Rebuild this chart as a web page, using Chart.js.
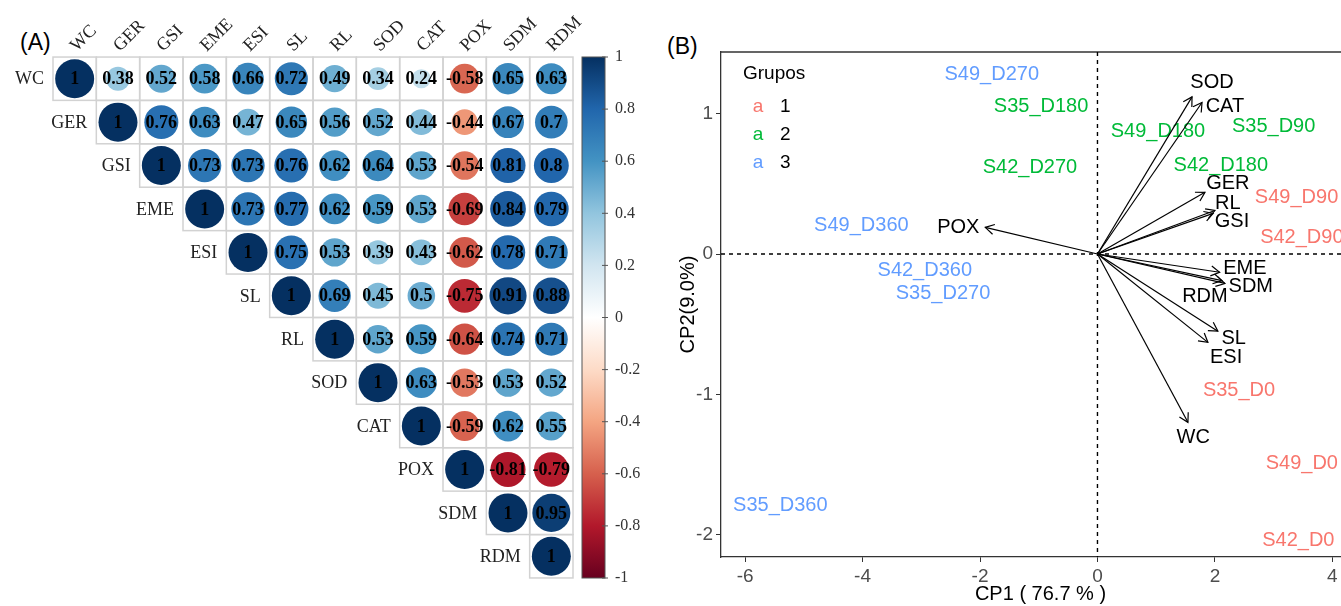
<!DOCTYPE html>
<html lang="pt-BR">
<head>
<meta charset="UTF-8">
<title>Correlação e PCA</title>
<style>
  body { margin:0; background:#fff; overflow:hidden; width:1341px; height:606px; position:relative; }
  #painelA { position:absolute; left:0; top:0; }
  #painelB { position:absolute; left:660px; top:0; }
  .rotulo { position:absolute; font-family:"Liberation Sans", Arial, sans-serif; font-size:23px; color:#000; line-height:26px; }
</style>
</head>
<body>
<div class="rotulo" style="left:20px; top:29px">(A)</div>
<div class="rotulo" style="left:667px; top:33px">(B)</div>
<canvas id="painelA" width="660" height="606"></canvas>
<canvas id="painelB" width="720" height="606"></canvas>

<script src="https://cdn.jsdelivr.net/npm/chart.js"></script>
<script>
// ---- painel A: matriz de correlação (linhas começam na diagonal)
const variaveis = ["WC","GER","GSI","EME","ESI","SL","RL","SOD","CAT","POX","SDM","RDM"];
const correlacoes = [
  [1, 0.38, 0.52, 0.58, 0.66, 0.72, 0.49, 0.34, 0.24, -0.58, 0.65, 0.63],
  [1, 0.76, 0.63, 0.47, 0.65, 0.56, 0.52, 0.44, -0.44, 0.67, 0.7],
  [1, 0.73, 0.73, 0.76, 0.62, 0.64, 0.53, -0.54, 0.81, 0.8],
  [1, 0.73, 0.77, 0.62, 0.59, 0.53, -0.69, 0.84, 0.79],
  [1, 0.75, 0.53, 0.39, 0.43, -0.62, 0.78, 0.71],
  [1, 0.69, 0.45, 0.5, -0.75, 0.91, 0.88],
  [1, 0.53, 0.59, -0.64, 0.74, 0.71],
  [1, 0.63, -0.53, 0.53, 0.52],
  [1, -0.59, 0.62, 0.55],
  [1, -0.81, -0.79],
  [1, 0.95],
  [1]
];
const barraTicks = [1, 0.8, 0.6, 0.4, 0.2, 0, -0.2, -0.4, -0.6, -0.8, -1];

// ---- painel B: PCA
const grupos = ["1", "2", "3"];
const coresGrupo = ["#F8766D", "#00BA38", "#619CFF"];
const amostras = [
  ["S49_D90", "S42_D90", "S35_D0", "S49_D0", "S42_D0"],
  ["S35_D180", "S42_D270", "S49_D180", "S35_D90", "S42_D180"],
  ["S49_D270", "S49_D360", "S42_D360", "S35_D270", "S35_D360"]
];
const amostrasX = [
  [3.39, 3.48, 2.41, 3.48, 3.42],
  [-0.96, -1.15, 1.03, 3.0, 2.10],
  [-1.80, -4.02, -2.94, -2.63, -5.40]
];
const amostrasY = [
  [0.40, 0.12, -0.97, -1.49, -2.04],
  [1.05, 0.62, 0.87, 0.91, 0.63],
  [1.28, 0.20, -0.12, -0.28, -1.79]
];
const vetores = ["SOD","CAT","GER","RL","GSI","POX","EME","SDM","RDM","SL","ESI","WC"];
const vetX = [1.61, 1.78, 1.83, 2.00, 1.97, -1.91, 2.08, 2.17, 2.12, 2.05, 1.88, 1.54];
const vetY = [1.12, 1.08, 0.44, 0.31, 0.29, 0.19, -0.13, -0.21, -0.19, -0.55, -0.63, -1.20];
const rotX = [1.95, 2.17, 2.22, 2.22, 2.29, -2.37, 2.51, 2.61, 1.83, 2.32, 2.19, 1.63];
const rotY = [1.22, 1.05, 0.50, 0.36, 0.23, 0.19, -0.10, -0.23, -0.30, -0.60, -0.74, -1.31];
const ticksX = [-6, -4, -2, 0, 2, 4];
const ticksY = [-2, -1, 0, 1];

const rdbu = ["#67001F","#B2182B","#D6604D","#F4A582","#FDDBC7","#FFFFFF","#D1E5F0","#92C5DE","#4393C3","#2166AC","#053061"];
const hexRgb = h => [1,3,5].map(i => parseInt(h.substr(i,2),16));
function corCorr(v) {
  const t = (v + 1) / 2 * 10;
  const i = Math.min(9, Math.floor(t));
  const f = t - i;
  const a = hexRgb(rdbu[i]), b = hexRgb(rdbu[i+1]);
  const c = a.map((x,k) => Math.round(x + (b[k]-x)*f));
  return `rgb(${c[0]},${c[1]},${c[2]})`;
}

const serif = "'Liberation Serif', 'Times New Roman', serif";
const sans = "'Liberation Sans', Arial, sans-serif";

const pontosCorr = [];
correlacoes.forEach((linha, i) => linha.forEach((v, k) => pontosCorr.push({x: i + k, y: i, v: v})));

function tamCelula(chart) {
  const s = chart.scales.x;
  return Math.abs(s.getPixelForValue(1) - s.getPixelForValue(0));
}

const pluginCorr = {
  id: 'corr',
  beforeDatasetsDraw(chart) {
    const {ctx, scales: {x, y}} = chart;
    const c = tamCelula(chart);
    ctx.save();
    ctx.strokeStyle = '#d2d2d2';
    ctx.lineWidth = 1.5;
    correlacoes.forEach((linha, i) => linha.forEach((v, k) => {
      ctx.strokeRect(x.getPixelForValue(i + k) - c/2, y.getPixelForValue(i) - c/2, c, c);
    }));
    ctx.restore();
  },
  afterDatasetsDraw(chart) {
    const {ctx, chartArea: a, scales: {x, y}} = chart;
    const c = tamCelula(chart);
    ctx.save();
    // valores
    ctx.font = "bold 18px " + serif;
    ctx.fillStyle = '#000';
    ctx.textAlign = 'center';
    ctx.textBaseline = 'middle';
    pontosCorr.forEach(p => ctx.fillText(String(p.v), x.getPixelForValue(p.x), y.getPixelForValue(p.y) + 1));
    // rótulos das linhas
    ctx.font = "18px " + serif;
    ctx.fillStyle = '#222';
    ctx.textAlign = 'right';
    variaveis.forEach((n, i) => ctx.fillText(n, x.getPixelForValue(i) - c/2 - 9, y.getPixelForValue(i) + 1));
    // rótulos das colunas
    ctx.textAlign = 'left';
    ctx.textBaseline = 'alphabetic';
    variaveis.forEach((n, k) => {
      ctx.save();
      ctx.translate(x.getPixelForValue(k) + 2, a.top - 5);
      ctx.rotate(-Math.PI / 4);
      ctx.fillText(n, 0, 0);
      ctx.restore();
    });
    // barra de cores
    const bx = a.right + 9, bw = 23;
    const g = ctx.createLinearGradient(0, a.top, 0, a.bottom);
    rdbu.forEach((cor, i) => g.addColorStop(1 - i / 10, cor));
    ctx.fillStyle = g;
    ctx.fillRect(bx, a.top, bw, a.bottom - a.top);
    ctx.strokeStyle = '#555';
    ctx.lineWidth = 1;
    ctx.strokeRect(bx, a.top, bw, a.bottom - a.top);
    ctx.font = "16px " + serif;
    ctx.fillStyle = '#333';
    ctx.textBaseline = 'middle';
    barraTicks.forEach(t => {
      const ty = a.top + (1 - t) / 2 * (a.bottom - a.top);
      ctx.beginPath();
      ctx.moveTo(bx + bw - 3, ty);
      ctx.lineTo(bx + bw + 3, ty);
      ctx.stroke();
      ctx.fillText(String(t), bx + bw + 10, ty);
    });
    ctx.restore();
  }
};

new Chart(document.getElementById('painelA'), {
  type: 'scatter',
  data: {
    datasets: [{
      data: pontosCorr,
      pointRadius: ctx => ctx.raw ? tamCelula(ctx.chart) * 0.45 * Math.sqrt(Math.abs(ctx.raw.v)) : 0,
      pointBackgroundColor: ctx => ctx.raw ? corCorr(ctx.raw.v) : '#fff',
      pointBorderWidth: 0
    }]
  },
  options: {
    responsive: false,
    animation: false,
    events: [],
    layout: { padding: { left: 53, top: 57, right: 87, bottom: 28 } },
    scales: {
      x: { type: 'linear', min: -0.5, max: 11.5, display: false },
      y: { type: 'linear', min: -0.5, max: 11.5, reverse: true, display: false }
    },
    plugins: { legend: { display: false }, tooltip: { enabled: false } }
  },
  plugins: [pluginCorr]
});

// ---- painel B
const conjuntos = [];
grupos.forEach((g, gi) => {
  conjuntos.push({
    type: 'scatter',
    label: g,
    data: amostras[gi].map((n, j) => ({x: amostrasX[gi][j], y: amostrasY[gi][j], nome: n})),
    pointRadius: 0,
    cor: coresGrupo[gi]
  });
});
vetores.forEach((v, i) => {
  conjuntos.push({
    type: 'line',
    label: v,
    data: [{x: 0, y: 0}, {x: vetX[i], y: vetY[i]}],
    borderColor: '#000',
    borderWidth: 1.2,
    pointRadius: 0,
    fill: false,
    seta: true,
    rx: rotX[i],
    ry: rotY[i]
  });
});

const pluginPca = {
  id: 'pca',
  beforeDatasetsDraw(chart) {
    const {ctx, chartArea: a, scales: {x, y}} = chart;
    ctx.save();
    // moldura superior e direita
    ctx.strokeStyle = '#333';
    ctx.lineWidth = 1.3;
    ctx.beginPath();
    ctx.moveTo(a.left, a.top);
    ctx.lineTo(a.right, a.top);
    ctx.lineTo(a.right, a.bottom);
    ctx.stroke();
    // linhas tracejadas em zero
    ctx.strokeStyle = '#000';
    ctx.lineWidth = 1.4;
    ctx.setLineDash([4, 4]);
    const x0 = x.getPixelForValue(0), y0 = y.getPixelForValue(0);
    ctx.beginPath();
    ctx.moveTo(x0, a.top); ctx.lineTo(x0, a.bottom);
    ctx.moveTo(a.left, y0); ctx.lineTo(a.right, y0);
    ctx.stroke();
    ctx.setLineDash([]);
    // rótulos das amostras
    ctx.font = "20px " + sans;
    ctx.textAlign = 'center';
    ctx.textBaseline = 'middle';
    chart.data.datasets.forEach((ds, i) => {
      if (!ds.cor) return;
      ctx.fillStyle = ds.cor;
      chart.getDatasetMeta(i).data.forEach((pt, j) => ctx.fillText(ds.data[j].nome, pt.x, pt.y));
    });
    // legenda
    ctx.textAlign = 'left';
    ctx.fillStyle = '#000';
    ctx.font = "19px " + sans;
    ctx.fillText('Grupos', a.left + 22, a.top + 22);
    ctx.textBaseline = 'alphabetic';
    grupos.forEach((g, gi) => {
      const by = a.top + 60 + gi * 28;
      ctx.fillStyle = coresGrupo[gi];
      ctx.textAlign = 'center';
      ctx.fillText('a', a.left + 37, by);
      ctx.fillStyle = '#000';
      ctx.textAlign = 'left';
      ctx.fillText(g, a.left + 59, by);
    });
    ctx.restore();
  },
  afterDatasetsDraw(chart) {
    const {ctx, scales: {x, y}} = chart;
    ctx.save();
    ctx.strokeStyle = '#000';
    ctx.lineWidth = 1.2;
    ctx.fillStyle = '#000';
    ctx.font = "20px " + sans;
    ctx.textAlign = 'center';
    ctx.textBaseline = 'middle';
    chart.data.datasets.forEach((ds, i) => {
      if (!ds.seta) return;
      const [p0, p1] = chart.getDatasetMeta(i).data;
      const ang = Math.atan2(p1.y - p0.y, p1.x - p0.x);
      const L = 10;
      ctx.beginPath();
      ctx.moveTo(p1.x - L * Math.cos(ang - Math.PI / 6), p1.y - L * Math.sin(ang - Math.PI / 6));
      ctx.lineTo(p1.x, p1.y);
      ctx.lineTo(p1.x - L * Math.cos(ang + Math.PI / 6), p1.y - L * Math.sin(ang + Math.PI / 6));
      ctx.stroke();
      ctx.fillText(ds.label, x.getPixelForValue(ds.rx), y.getPixelForValue(ds.ry));
    });
    ctx.restore();
  }
};

new Chart(document.getElementById('painelB'), {
  type: 'scatter',
  data: { datasets: conjuntos },
  options: {
    responsive: false,
    animation: false,
    events: [],
    layout: { padding: { left: 12, top: 52, right: 20, bottom: 0 } },
    scales: {
      x: {
        type: 'linear', min: -6.41, max: 4.47,
        afterBuildTicks: ax => { ax.ticks = ticksX.map(v => ({value: v})); },
        afterFit: s => { s.height = 49; },
        ticks: { font: { family: sans, size: 19 }, color: '#4d4d4d', padding: 3 },
        grid: { drawOnChartArea: false, tickLength: 5, color: '#333' },
        border: { color: '#333', width: 1.3 },
        title: { display: true, text: 'CP1 ( 76.7 % )', color: '#000', font: { family: sans, size: 20 }, padding: { top: 0, bottom: 0 } }
      },
      y: {
        type: 'linear', min: -2.16, max: 1.44,
        afterBuildTicks: ax => { ax.ticks = ticksY.map(v => ({value: v})); },
        afterFit: s => { s.width = 49; },
        ticks: { font: { family: sans, size: 19 }, color: '#4d4d4d', padding: 3 },
        grid: { drawOnChartArea: false, tickLength: 5, color: '#333' },
        border: { color: '#333', width: 1.3 },
        title: { display: true, text: 'CP2(9.0%)', color: '#000', font: { family: sans, size: 20 }, padding: { top: 4, bottom: 0 } }
      }
    },
    plugins: { legend: { display: false }, tooltip: { enabled: false } }
  },
  plugins: [pluginPca]
});
</script>
</body>
</html>
